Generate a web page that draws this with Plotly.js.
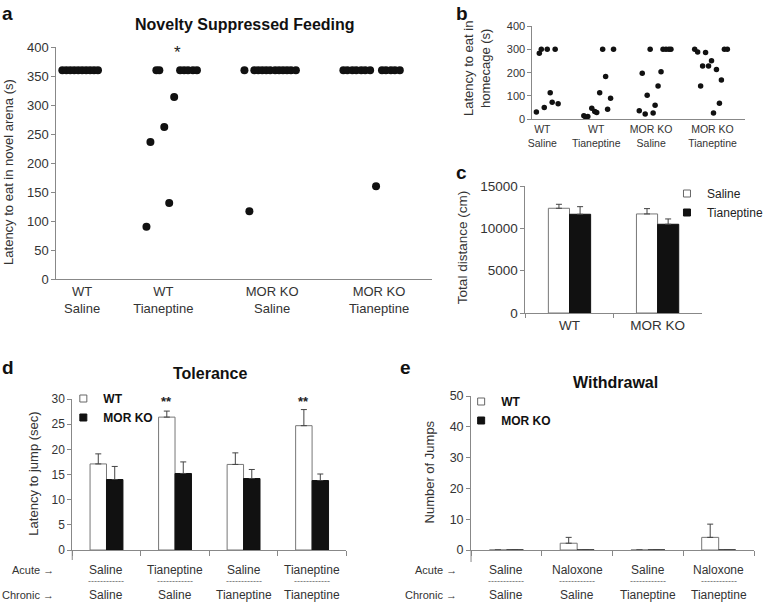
<!DOCTYPE html>
<html><head><meta charset="utf-8">
<script src="https://cdn.plot.ly/plotly-3.0.1.min.js"></script>
<style>html,body{margin:0;padding:0;background:#fff}#chart{width:768px;height:605px}</style>
</head><body><div id="chart"></div>
<script>
// ---------- Panel a: Novelty Suppressed Feeding (dot positions and latencies, s) ----------
const aCatLabels = ['WT<br>Saline', 'WT<br>Tianeptine', 'MOR KO<br>Saline', 'MOR KO<br>Tianeptine'];
const aCatPos = [26, 108, 218, 326];
const aWTSalX = [6, 10, 14, 18, 22, 26, 30, 34, 38, 42];
const aWTSalY = [360, 360, 360, 360, 360, 360, 360, 360, 360, 360];
const aWTTiaX = [91, 95, 101, 104, 109, 114, 119, 125, 129, 133, 138, 142];
const aWTTiaY = [90, 236, 360, 360, 262, 131, 314, 360, 360, 360, 360, 360];
const aKOSalX = [190, 195, 200, 204, 208, 212, 216, 221, 225, 229, 233, 237, 242];
const aKOSalY = [360, 117, 360, 360, 360, 360, 360, 360, 360, 360, 360, 360, 360];
const aKOTiaX = [290, 294, 299, 303, 308, 312, 317, 323, 329, 333, 338, 342, 347];
const aKOTiaY = [360, 360, 360, 360, 360, 360, 360, 160, 360, 360, 360, 360, 360];

// ---------- Panel b: Latency to eat in homecage (s) ----------
const bCatLabels = ['WT<br>Saline', 'WT<br>Tianeptine', 'MOR KO<br>Saline', 'MOR KO<br>Tianeptine'];
const bCatPos = [10, 64.5, 120, 182];
const bWTSalX = [4, 7, 9, 12, 15, 18, 20, 23, 26];
const bWTSalY = [31, 283, 300, 51, 300, 114, 73, 300, 67];
const bWTTiaX = [52, 54, 56, 60, 63, 65, 68, 71, 74, 76, 79, 82];
const bWTTiaY = [15, 8, 12, 47, 33, 29, 114, 300, 183, 43, 90, 300];
const bKOSalX = [108, 111, 114, 116, 119, 122, 124, 127, 130, 132, 135, 138, 140];
const bKOSalY = [37, 197, 23, 103, 300, 27, 60, 143, 204, 300, 300, 300, 300];
const bKOTiaX = [164, 167, 170, 172, 175, 178, 181, 183, 186, 189, 191, 194, 197];
const bKOTiaY = [300, 289, 143, 229, 286, 229, 251, 27, 214, 69, 169, 300, 300];

// ---------- Panel c: Total distance (cm) ----------
const cCats = ['WT', 'MOR KO'];
const cSaline = [12370, 11700];
const cSalineErr = [470, 630];
const cTian = [11660, 10480];
const cTianErr = [900, 630];

// ---------- Panel d: Tolerance, latency to jump (sec) ----------
const dAcute = ['Saline', 'Tianeptine', 'Saline', 'Tianeptine'];
const dChronic = ['Saline', 'Saline', 'Tianeptine', 'Tianeptine'];
const dWT = [17.1, 26.4, 17.0, 24.7];
const dWTErr = [2.0, 1.2, 2.3, 3.2];
const dKO = [14.0, 15.2, 14.2, 13.8];
const dKOErr = [2.6, 2.3, 1.8, 1.3];
const dSignif = ['', '**', '', '**'];

// ---------- Panel e: Withdrawal, number of jumps ----------
const eAcute = ['Saline', 'Naloxone', 'Saline', 'Naloxone'];
const eChronic = ['Saline', 'Saline', 'Tianeptine', 'Tianeptine'];
const eWT = [0, 2.2, 0, 4.1];
const eWTErr = [0, 1.9, 0, 4.3];
const eKO = [0, 0, 0, 0];
const eKOErr = [0, 0, 0, 0];

// ---------- helpers ----------
const W = 768, H = 605;
const px = x => x / W;
const py = y => 1 - y / H;
const FONT = 'Liberation Sans, Arial, sans-serif';
const dCats = dAcute.map((a, i) => a + ' / ' + dChronic[i]);
const eCats = eAcute.map((a, i) => a + ' / ' + eChronic[i]);
const zeros = n => new Array(n).fill(0);

const dotTrace = (x, y, xa, ya, size) => ({
  type: 'scatter', mode: 'markers', x: x, y: y, xaxis: xa, yaxis: ya,
  marker: {color: '#111', size: size}, showlegend: false, hoverinfo: 'y'
});
const errSpec = (arr) => ({type: 'data', symmetric: false, array: arr, arrayminus: zeros(arr.length),
  color: '#444', thickness: 1, width: 3});
const openBar = {color: '#ffffff', line: {color: '#777', width: 1}};
const fillBar = {color: '#111111', line: {color: '#111', width: 1}};
const legendProxy = (name, open, legend, xa, ya) => ({
  type: 'scatter', mode: 'markers', x: [null], y: [null], xaxis: xa, yaxis: ya, name: name,
  legend: legend, showlegend: true,
  marker: {symbol: 'square', size: 7, color: open ? '#fff' : '#111', line: {color: open ? '#666' : '#111', width: 1}}
});

const traces = [
  dotTrace(aWTSalX, aWTSalY, 'x', 'y', 8),
  dotTrace(aWTTiaX, aWTTiaY, 'x', 'y', 8),
  dotTrace(aKOSalX, aKOSalY, 'x', 'y', 8),
  dotTrace(aKOTiaX, aKOTiaY, 'x', 'y', 8),
  dotTrace(bWTSalX, bWTSalY, 'x2', 'y2', 5.5),
  dotTrace(bWTTiaX, bWTTiaY, 'x2', 'y2', 5.5),
  dotTrace(bKOSalX, bKOSalY, 'x2', 'y2', 5.5),
  dotTrace(bKOTiaX, bKOTiaY, 'x2', 'y2', 5.5),
  {type: 'bar', name: 'Saline', x: cCats, y: cSaline, xaxis: 'x3', yaxis: 'y3', marker: openBar,
   error_y: errSpec(cSalineErr), showlegend: false},
  {type: 'bar', name: 'Tianeptine', x: cCats, y: cTian, xaxis: 'x3', yaxis: 'y3', marker: fillBar,
   error_y: errSpec(cTianErr), showlegend: false},
  {type: 'bar', name: 'WT', x: dCats, y: dWT, xaxis: 'x4', yaxis: 'y4', marker: openBar,
   error_y: errSpec(dWTErr), showlegend: false},
  {type: 'bar', name: 'MOR KO', x: dCats, y: dKO, xaxis: 'x4', yaxis: 'y4', marker: fillBar,
   error_y: errSpec(dKOErr), showlegend: false},
  {type: 'bar', name: 'WT', x: eCats, y: eWT, xaxis: 'x5', yaxis: 'y5', marker: openBar,
   error_y: errSpec(eWTErr), showlegend: false},
  {type: 'bar', name: 'MOR KO', x: eCats, y: eKO, xaxis: 'x5', yaxis: 'y5', marker: fillBar,
   error_y: errSpec(eKOErr), showlegend: false},
  legendProxy('Saline', true, 'legend', 'x3', 'y3'),
  legendProxy('Tianeptine', false, 'legend', 'x3', 'y3'),
  legendProxy('WT', true, 'legend2', 'x4', 'y4'),
  legendProxy('MOR KO', false, 'legend2', 'x4', 'y4'),
  legendProxy('WT', true, 'legend3', 'x5', 'y5'),
  legendProxy('MOR KO', false, 'legend3', 'x5', 'y5')
];

const baseAxis = {showline: true, linecolor: '#888', linewidth: 1, showgrid: false, zeroline: false,
  ticks: 'outside', ticklen: 4, tickcolor: '#888', tickwidth: 1, fixedrange: true};
const yAx = (domain, range, dtick, size, anchor) => Object.assign({}, baseAxis, {
  domain: domain, range: range, dtick: dtick, anchor: anchor, tickformat: 'd', tickfont: {size: size, color: '#333'}});

const layout = {
  width: W, height: H, margin: {l: 0, r: 0, t: 0, b: 0},
  paper_bgcolor: '#fff', plot_bgcolor: 'rgba(0,0,0,0)',
  font: {family: FONT, color: '#222'},
  barmode: 'group', bargap: 0.52, bargroupgap: 0,
  xaxis: Object.assign({}, baseAxis, {domain: [px(57), px(437)], range: [0, 380], anchor: 'y',
    tickmode: 'array', tickvals: aCatPos, ticktext: aCatLabels, ticks: '', tickfont: {size: 13, color: '#333'}}),
  yaxis: yAx([py(279), py(47)], [0, 400], 50, 13, 'x'),
  xaxis2: Object.assign({}, baseAxis, {domain: [px(538), px(753)], range: [0, 215], anchor: 'y2',
    tickmode: 'array', tickvals: bCatPos, ticktext: bCatLabels, ticks: '', tickfont: {size: 10.5, color: '#333'}}),
  yaxis2: yAx([py(119.3), py(26)], [0, 400], 100, 11, 'x2'),
  xaxis3: Object.assign({}, baseAxis, {domain: [px(531), px(709)], type: 'category', anchor: 'y3',
    range: [-0.5, 1.5], tickson: 'boundaries', ticklen: 4, tickfont: {size: 13.5, color: '#333'}}),
  yaxis3: yAx([py(313), py(186)], [0, 15000], 5000, 13.5, 'x3'),
  xaxis4: Object.assign({}, baseAxis, {domain: [px(73), px(350)], type: 'category', anchor: 'y4',
    range: [-0.5, 3.5], tickson: 'boundaries', ticklen: 5, showticklabels: false}),
  yaxis4: yAx([py(550), py(399)], [0, 30], 5, 12, 'x4'),
  xaxis5: Object.assign({}, baseAxis, {domain: [px(476), px(762)], type: 'category', anchor: 'y5',
    range: [-0.5, 3.5], tickson: 'boundaries', ticklen: 5, showticklabels: false}),
  yaxis5: yAx([py(550), py(396)], [0, 50], 10, 12.5, 'x5'),
  legend: {x: px(674), y: py(179), xanchor: 'left', yanchor: 'top', bgcolor: 'rgba(0,0,0,0)',
    font: {size: 12, color: '#222'}, itemclick: false, tracegroupgap: 0},
  legend2: {x: px(64), y: py(384), xanchor: 'left', yanchor: 'top', bgcolor: 'rgba(0,0,0,0)',
    font: {size: 12, color: '#111', weight: 'bold'}, itemclick: false},
  legend3: {x: px(466), y: py(387), xanchor: 'left', yanchor: 'top', bgcolor: 'rgba(0,0,0,0)',
    font: {size: 12, color: '#111', weight: 'bold'}, itemclick: false},
  shapes: [
    {type: 'line', xref: 'paper', yref: 'paper', x0: px(73), x1: px(73), y0: py(550), y1: py(560), line: {color: '#888', width: 1}},
    {type: 'line', xref: 'paper', yref: 'paper', x0: px(476), x1: px(476), y0: py(550), y1: py(562), line: {color: '#888', width: 1}}
  ],
  annotations: []
};

const ann = (text, x, y, opts) => Object.assign({text: text, x: px(x), y: py(y), xref: 'paper', yref: 'paper',
  showarrow: false, xanchor: 'center', yanchor: 'middle'}, opts || {});
const A = layout.annotations;
// panel letters
const letterFont = {size: 19, color: '#111'};
A.push(ann('<b>a</b>', 8, 13, {font: letterFont}));
A.push(ann('<b>b</b>', 467, 13, {font: letterFont}));
A.push(ann('<b>c</b>', 466, 172, {font: letterFont}));
A.push(ann('<b>d</b>', 8, 367, {font: letterFont}));
A.push(ann('<b>e</b>', 410, 367, {font: letterFont}));
// titles
A.push(ann('<b>Novelty Suppressed Feeding</b>', 247.5, 25, {font: {size: 16, color: '#111'}}));
A.push(ann('<b>Tolerance</b>', 213, 373, {font: {size: 16, color: '#111'}}));
A.push(ann('<b>Withdrawal</b>', 622, 382, {font: {size: 16, color: '#111'}}));
// y titles
A.push(ann('Latency to eat in novel arena (s)', 8, 172, {textangle: -90, font: {size: 13, color: '#333'}}));
A.push(ann('Latency to eat in<br>homecage (s)', 482, 68, {textangle: -90, font: {size: 13, color: '#333'}}));
A.push(ann('Total distance (cm)', 467, 248, {textangle: -90, font: {size: 13.5, color: '#333'}}));
A.push(ann('Latency to jump (sec)', 33, 474, {textangle: -90, font: {size: 13, color: '#333'}}));
A.push(ann('Number of Jumps', 434, 472, {textangle: -90, font: {size: 13, color: '#333'}}));
// significance
A.push({text: '*', x: 122, y: 390, xref: 'x', yref: 'y', showarrow: false, font: {size: 17, color: '#222'}});
dSignif.forEach((s, i) => { if (s) A.push({text: '<b>' + s + '</b>', x: i - 0.125, y: 29.5, xref: 'x4', yref: 'y4',
  showarrow: false, font: {size: 13, color: '#222'}}); });
// acute / chronic rows
const rowFont = {size: 11, color: '#333'};
[[57, 'Acute \u2192', 570], [57, 'Chronic \u2192', 595], [464, 'Acute \u2192', 570], [464, 'Chronic \u2192', 595]]
  .forEach(r => A.push(ann(r[1], r[0], r[2], {xanchor: 'right', font: rowFont})));
const catRows = (cats, acute, chronic, xref) => cats.forEach((c, i) => {
  A.push({text: acute[i], x: c, y: py(570), xref: xref, yref: 'paper', showarrow: false, yanchor: 'middle', font: {size: 12, color: '#333'}});
  A.push({text: '------------', x: c, y: py(581), xref: xref, yref: 'paper', showarrow: false, yanchor: 'middle', font: {size: 9, color: '#666'}});
  A.push({text: chronic[i], x: c, y: py(595), xref: xref, yref: 'paper', showarrow: false, yanchor: 'middle', font: {size: 12, color: '#333'}});
});
catRows(dCats, dAcute, dChronic, 'x4');
catRows(eCats, eAcute, eChronic, 'x5');

Plotly.newPlot('chart', traces, layout, {displayModeBar: false, staticPlot: true});
</script>
</body></html>
